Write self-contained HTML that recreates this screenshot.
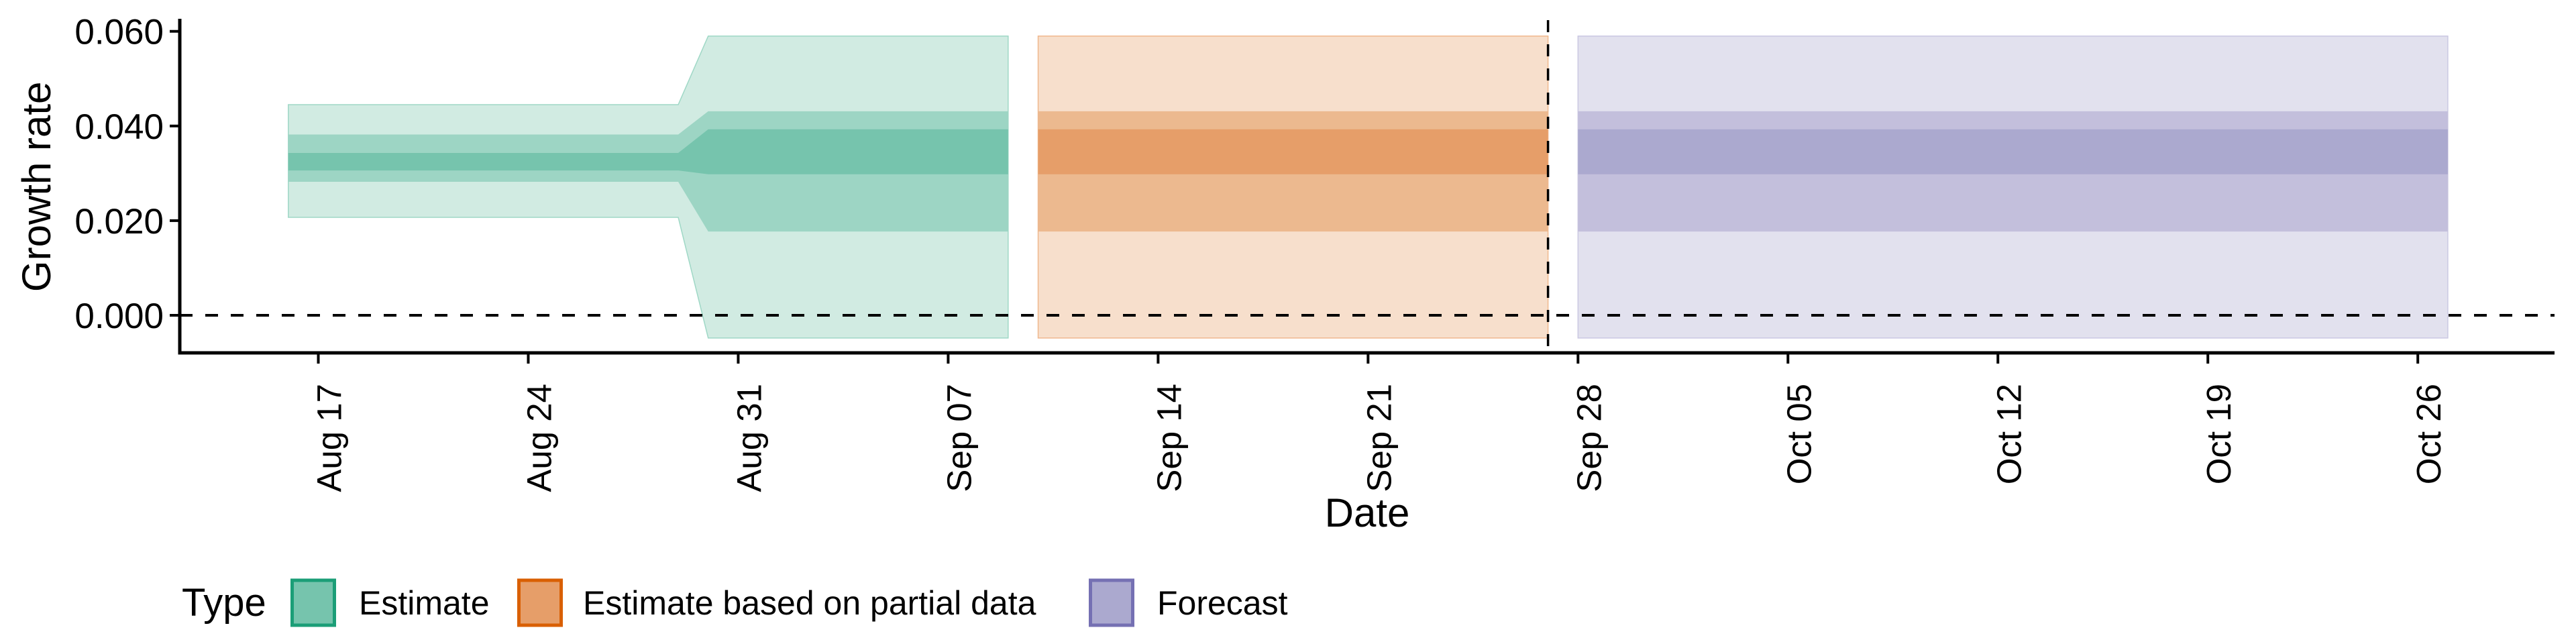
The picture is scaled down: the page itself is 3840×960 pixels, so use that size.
<!DOCTYPE html>
<html><head><meta charset="utf-8"><style>
html,body{margin:0;padding:0;background:#fff;}
svg{display:block;font-family:"Liberation Sans",Arial,sans-serif;}
</style></head><body>
<svg id="chart" width="3840" height="960" viewBox="0 0 3840 960" xmlns="http://www.w3.org/2000/svg">
<g id="bands"></g>
<g id="axes"></g>
<g id="legend"></g>
</svg>
<script>
// ---- data ----
const estDates = ["2020-08-16","2020-08-29","2020-08-30","2020-09-09"];
const estLo90 = [0.0207,0.0207,-0.0048,-0.0048];
const estHi90 = [0.0445,0.0445,0.0590,0.0590];
const estLo50 = [0.0282,0.0282,0.0177,0.0177];
const estHi50 = [0.0382,0.0382,0.0431,0.0431];
const estLo20 = [0.0306,0.0306,0.0298,0.0298];
const estHi20 = [0.0343,0.0343,0.0393,0.0393];
const partDates = ["2020-09-10","2020-09-27"];
const partLo90 = [-0.0048,-0.0048], partHi90 = [0.0590,0.0590];
const partLo50 = [0.0177,0.0177], partHi50 = [0.0431,0.0431];
const partLo20 = [0.0298,0.0298], partHi20 = [0.0393,0.0393];
const fcDates = ["2020-09-28","2020-10-27"];
const fcLo90 = [-0.0048,-0.0048], fcHi90 = [0.0590,0.0590];
const fcLo50 = [0.0177,0.0177], fcHi50 = [0.0431,0.0431];
const fcLo20 = [0.0298,0.0298], fcHi20 = [0.0393,0.0393];
const yTicks = [0,0.02,0.04,0.06];
const yTickLabels = ["0.000","0.020","0.040","0.060"];
const xTicks = ["2020-08-17","2020-08-24","2020-08-31","2020-09-07","2020-09-14","2020-09-21","2020-09-28","2020-10-05","2020-10-12","2020-10-19","2020-10-26"];
const xTickLabels = ["Aug 17","Aug 24","Aug 31","Sep 07","Sep 14","Sep 21","Sep 28","Oct 05","Oct 12","Oct 19","Oct 26"];
const dataCutoff = "2020-09-27";
const legendLabels = ["Estimate","Estimate based on partial data","Forecast"];

// ---- scales ----
const NS="http://www.w3.org/2000/svg";
const day0 = Date.UTC(2020,7,17);
function dayNum(s){const p=s.split("-");return (Date.UTC(+p[0],+p[1]-1,+p[2])-day0)/86400000;}
function X(s){return 474.5+dayNum(s)*44.71;}
function Y(v){return 470-v/0.02*141.1;}
const L=268,R=3808,B=526;
function mk(tag,attrs,parent){const e=document.createElementNS(NS,tag);for(const k in attrs)e.setAttribute(k,attrs[k]);parent.appendChild(e);return e;}
const bands=document.getElementById('bands'),axes=document.getElementById('axes'),legend=document.getElementById('legend');

function ribbon(dates,lo,hi,fill,stroke,name){
  let pts=dates.map((d,i)=>X(d)+","+Y(hi[i]));
  for(let i=dates.length-1;i>=0;i--)pts.push(X(dates[i])+","+Y(lo[i]));
  const p=mk('polygon',{points:pts.join(" "),fill:fill,stroke:stroke,'stroke-width':stroke?1.5:0},bands);
  
  
}
function group(dates,l9,h9,l5,h5,l2,h2,c,key){
  ribbon(dates,l9,h9,c[0],c[3],key+'-ribbon-90');
  ribbon(dates,l5,h5,c[1],null,key+'-ribbon-50');
  ribbon(dates,l2,h2,c[2],null,key+'-ribbon-20');
}
group(estDates,estLo90,estHi90,estLo50,estHi50,estLo20,estHi20,["#d1ebe2","#9dd5c4","#76c4ad","#9fd8c6"],'estimate');
group(partDates,partLo90,partHi90,partLo50,partHi50,partLo20,partHi20,["#f7dfcc","#ecb98f","#e69e69","#f0b88e"],'partial');
group(fcDates,fcLo90,fcHi90,fcLo50,fcHi50,fcLo20,fcHi20,["#e2e1ee","#c3bfdc","#aba9cf","#cbc8e2"],'forecast');

// zero line
let z=mk('line',{x1:L,x2:R,y1:Y(0),y2:Y(0),stroke:"#000",'stroke-width':4,'stroke-dasharray':"19 19"},axes);


// cutoff line
let cv=mk('line',{x1:X(dataCutoff),x2:X(dataCutoff),y1:30,y2:B,stroke:"#000",'stroke-width':3.5,'stroke-dasharray':"18 18"},axes);



// axes lines
let ya=mk('line',{x1:L,x2:L,y1:28,y2:B+2.5,stroke:"#000",'stroke-width':5},axes);


let xa=mk('line',{x1:L-2.5,x2:R,y1:B,y2:B,stroke:"#000",'stroke-width':5},axes);



yTicks.forEach((v,i)=>{
  const t=mk('line',{x1:L-15,x2:L,y1:Y(v),y2:Y(v),stroke:"#000",'stroke-width':4},axes);
  
  
  const tx=mk('text',{x:L-24,y:Y(v)+19,'text-anchor':'end','font-size':53,fill:"#000"},axes);
  tx.textContent=yTickLabels[i];
  
  
});
xTicks.forEach((d,i)=>{
  const x=X(d);
  const t=mk('line',{x1:x,x2:x,y1:B,y2:B+16,stroke:"#000",'stroke-width':4},axes);
  
  
  const tx=mk('text',{x:0,y:0,'text-anchor':'end','font-size':51,fill:"#000",transform:`translate(${x+34},${B+46}) rotate(-90)`},axes);
  tx.textContent=xTickLabels[i];
  
  
});
let yt=mk('text',{x:0,y:0,'text-anchor':'middle','font-size':60,fill:"#000",transform:`translate(75,${(Y(0.06)+B)/2-8}) rotate(-90)`},axes);
yt.textContent="Growth rate";


let xt=mk('text',{x:(L+R)/2,y:785,'text-anchor':'middle','font-size':60,fill:"#000"},axes);
xt.textContent="Date";



// legend
let lt=mk('text',{x:271,y:918,'font-size':58,fill:"#000"},legend);
lt.textContent="Type";


const keyX=[433,771,1623], txtX=[535,869,1725];
const keyFill=["#76c4ad","#e69e69","#aba9cf"], keyStroke=["#1b9e77","#d95f02","#7570b3"];
legendLabels.forEach((lab,i)=>{
  const r=mk('rect',{x:keyX[i]+2.5,y:865,width:63,height:67,fill:keyFill[i],stroke:keyStroke[i],'stroke-width':5},legend);
  
  
  const t=mk('text',{x:txtX[i],y:916,'font-size':50,fill:"#000"},legend);
  t.textContent=lab;
  
  
});
</script>
</body></html>
